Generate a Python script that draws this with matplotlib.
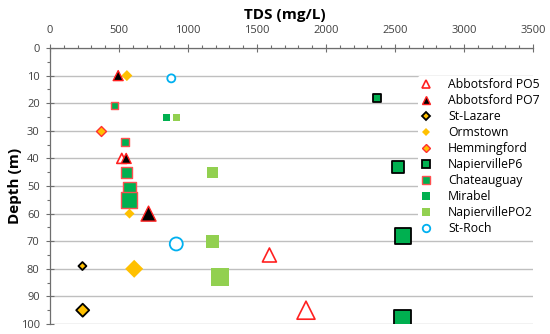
import numpy as np
import matplotlib
matplotlib.use("Agg")
import matplotlib.pyplot as plt
from matplotlib.lines import Line2D
from matplotlib.ticker import MultipleLocator

plt.rcParams['font.family'] = ['Open Sans', 'DejaVu Sans']

# TDS (mg/L), depth (m) and marker size (px) for each site
abb5_tds = [520, 1590, 1855]
abb5_depth = [40, 75, 95]
abb5_size = [10, 14, 18]

abb7_tds = [494, 552, 714]
abb7_depth = [10, 40, 60]
abb7_size = [10, 10, 15]

lazare_tds = [235, 237]
lazare_depth = [79, 95]
lazare_size = [8, 13]

orm_tds = [557, 576, 610]
orm_depth = [10, 60, 80]
orm_size = [11, 10, 18]

hem_tds = [370]
hem_depth = [30]
hem_size = [10]

nap6_tds = [2370, 2520, 2555, 2555]
nap6_depth = [18, 43, 68, 98]
nap6_size = [8, 12, 16, 17]

chat_tds = [465, 540, 552, 576, 576]
chat_depth = [21, 34, 45, 51, 55]
chat_size = [7, 8, 11, 13, 16]

mir_tds = [847]
mir_depth = [25]
mir_size = [7]

nap2_tds = [920, 1175, 1180, 1235]
nap2_depth = [25, 45, 70, 83]
nap2_size = [7, 11, 13, 18]

roch_tds = [879, 915]
roch_depth = [11, 71]
roch_size = [8, 13]

# label, x, y, size, marker, face, edge, edge width
series = [
    ("Abbotsford PO5", abb5_tds, abb5_depth, abb5_size, '^', 'white', '#FF2020', 1.2),
    ("Abbotsford PO7", abb7_tds, abb7_depth, abb7_size, '^', 'black', '#FF2020', 1.0),
    ("St-Lazare", lazare_tds, lazare_depth, lazare_size, 'D', '#FFC000', 'black', 1.3),
    ("Ormstown", orm_tds, orm_depth, orm_size, 'D', '#FFC000', 'none', 0),
    ("Hemmingford", hem_tds, hem_depth, hem_size, 'D', '#FFC000', '#FF3030', 1.0),
    ("NapiervilleP6", nap6_tds, nap6_depth, nap6_size, 's', '#00B050', 'black', 1.3),
    ("Chateauguay", chat_tds, chat_depth, chat_size, 's', '#00B050', '#FF5050', 1.0),
    ("Mirabel", mir_tds, mir_depth, mir_size, 's', '#00B050', 'none', 0),
    ("NapiervillePO2", nap2_tds, nap2_depth, nap2_size, 's', '#92D050', 'none', 0),
    ("St-Roch", roch_tds, roch_depth, roch_size, 'o', 'white', '#00B0F0', 1.3),
]

fig = plt.figure(figsize=(5.5, 3.34), dpi=100)
ax = fig.add_axes([50 / 550, 1 - 324 / 334, (533 - 50) / 550, (324 - 48) / 334])

px2pt = 72 / 100
handles = []
for i, (name, x, y, size, mk, fc, ec, lw) in enumerate(series):
    pts = np.array(size) * px2pt
    if mk == 'D':
        pts = pts / np.sqrt(2)
    ax.scatter(x, y, s=pts ** 2, marker=mk, facecolors=fc, edgecolors=ec,
               linewidths=lw, zorder=3 + i)
    legend_ms = 7.5 * px2pt / (np.sqrt(2) if mk == 'D' else 1)
    handles.append(Line2D([], [], linestyle='none', marker=mk, markersize=legend_ms,
                          markerfacecolor=fc, markeredgecolor=ec, markeredgewidth=lw,
                          label=name))

ax.set_xlim(0, 3500)
ax.set_ylim(100, 0)

ax.xaxis.tick_top()
ax.xaxis.set_major_locator(MultipleLocator(500))
ax.xaxis.set_minor_locator(MultipleLocator(100))
ax.yaxis.set_major_locator(MultipleLocator(10))
ax.yaxis.set_minor_locator(MultipleLocator(5))

ax.tick_params(which='major', direction='inout', length=5.8, width=0.8, color='#6e6e6e',
               labelsize=8, labelcolor='#404040')
ax.tick_params(which='minor', direction='out', length=2.2, width=0.8, color='#6e6e6e')
ax.tick_params(axis='x', pad=5.5)
ax.tick_params(axis='y', pad=4.5)

for side in ['right', 'bottom']:
    ax.spines[side].set_visible(False)
for side in ['left', 'top']:
    ax.spines[side].set_color('#6e6e6e')
    ax.spines[side].set_linewidth(0.9)

ax.yaxis.grid(True, color='#BFBFBF', linewidth=1.0)
ax.set_axisbelow(True)

ax.set_xlabel('TDS (mg/L)', fontsize=11, fontweight='bold')
ax.xaxis.set_label_position('top')
ax.xaxis.set_label_coords(0.487, 1.12)
ax.xaxis.label.set_va('center')
ax.set_ylabel('Depth (m)', fontsize=11, fontweight='bold')
ax.yaxis.set_label_coords(-0.072, 0.5)
ax.yaxis.label.set_va('center')

leg = ax.legend(handles=handles, loc='upper left', bbox_to_anchor=(418 / 550, 1 - 76 / 334),
                bbox_transform=fig.transFigure, frameon=True, facecolor='white',
                edgecolor='none', framealpha=1, fontsize=8.8, labelspacing=0.25,
                handlelength=1.0, handletextpad=1.3, borderpad=0.15, borderaxespad=0)
leg.set_zorder(20)

fig.savefig('out.png', dpi=100)
